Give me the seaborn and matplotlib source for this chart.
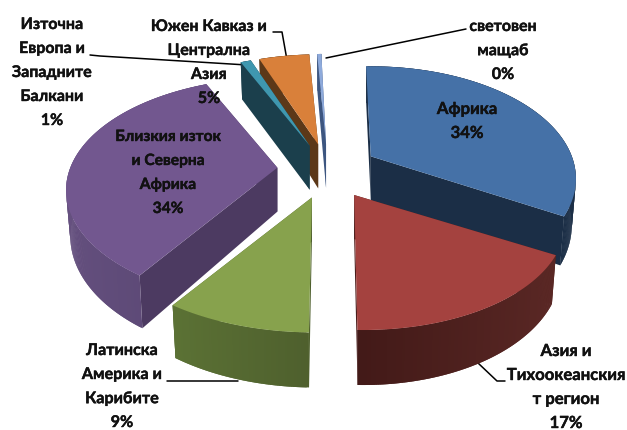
import numpy as np
import matplotlib.pyplot as plt
import matplotlib.patheffects as pe
import seaborn as sns

# Data
categories = ['Африка', 'Азия и\nТихоокеанския\nт регион', 'Латинска\nАмерика и\nКарибите',
              'Близкия изток\nи Северна\nАфрика', 'Източна\nЕвропа и\nЗападните\nБалкани',
              'Южен Кавказ и\nЦентрална\nАзия', 'световен\nмащаб']
values = [33.8, 17, 9, 34, 1, 4.8, 0.4]

# Colours: top face, rim light, rim dark, cut face
top_colors = ['#4571A7', '#A4423F', '#87A24D', '#72578F', '#3F97AF', '#D9803A', '#8EAADB']
rim_light = ['#1B2E46', '#5E2A27', '#66813B', '#65507F', '#1B3F4C', '#5C3818', '#3D5680']
rim_dark = ['#1B2E46', '#431A18', '#4E5F2D', '#55436E', '#1B3F4C', '#5C3818', '#3D5680']
cut_colors = ['#1B2E46', '#4A1D1B', '#4E5F2D', '#4C3A61', '#1B3F4C', '#5C3818', '#3D5680']

# Slices are painted from back to front
draw_order = [6, 5, 4, 0, 3, 1, 2]

# Label position (centre x, first line y), font size and leader lines
label_pos = [(467, 109), (566, 351), (122, 351), (168, 137), (52, 25), (209, 27), (503, 27)]
label_size = [12, 12, 11.6, 11.2, 11.5, 11.5, 11.5]
leaders = [None,
           [(478, 363), (497, 381), (505, 381)],
           [(167, 381), (238, 381)],
           None,
           [(90, 55), (100, 56), (247, 65)],
           [(273, 32), (282, 32), (287, 60)],
           [(326, 58), (466, 29)]]

# Pie geometry
start_angle = -1.6
cx, cy = 328, 170
radius = 201
tilt = 108
depth = 44
explode = 0.254
persp = 5.0
# perspective correction per slice, the front ones open up a little
x_stretch = [1.0, 1.02, 1.06, 1.03, 1.0, 1.0, 1.0]
x_shear = [0, 9, 3, 0, 0, 0, 0]

sns.set_theme(style='white')
plt.rcParams['font.family'] = ['Lato', 'Open Sans', 'DejaVu Sans']


def project(x, y, z=0.0):
    # ground plane (x right, y away from viewer) to pixel offsets from the centre
    s = persp / (persp + y)
    px = radius * x * s * (1 - 0.02 * z)
    py = -tilt * y * s + depth * s * z
    return px, py


def shade(c1, c2, t):
    a = np.array(sns.color_palette([c1, c2]))
    return tuple(a[0] * (1 - t) + a[1] * t)


fig = plt.figure(figsize=(6.27, 4.30), dpi=100)
ax = fig.add_axes([0, 0, 1, 1])
ax.set_xlim(0, 627)
ax.set_ylim(430, 0)
ax.axis('off')

vals = np.array(values, dtype=float)
edges = start_angle + np.concatenate([[0], np.cumsum(vals)]) * 360 / vals.sum()

for i in draw_order:
    a0, a1 = edges[i], edges[i + 1]
    mid = np.radians((a0 + a1) / 2)
    # explosion moves the whole slice on screen
    ox, oy = project(explode * np.sin(mid), explode * np.cos(mid))
    ox, oy = ox + cx, oy + cy
    ang = np.radians(np.linspace(a0, a1, max(int(a1 - a0) * 2, 3)))
    rx, ry = np.sin(ang), np.cos(ang)
    base = draw_order.index(i) * 3


    def place(xs, ys, zs=0.0):
        px, py = project(xs, ys, zs)
        return px * x_stretch[i] - x_shear[i] * ys + ox, py + oy


    # radial cut faces
    for k in [0, -1]:
        px, py = place(np.array([0, rx[k], rx[k], 0]), np.array([0, ry[k], ry[k], 0]),
                       np.array([0, 0, 1, 1]))
        ax.fill(px, py, color=cut_colors[i], lw=0, zorder=base + 1)

    # outer rim, each step overlaps the next to hide seams
    for j in range(len(ang) - 1):
        j2 = min(j + 2, len(ang) - 1)
        px, py = place(np.array([rx[j], rx[j2], rx[j2], rx[j]]),
                       np.array([ry[j], ry[j2], ry[j2], ry[j]]),
                       np.array([0, 0, 1, 1]))
        col = shade(rim_dark[i], rim_light[i], abs(np.sin(ang[j])))
        ax.fill(px, py, color=col, lw=0, zorder=base + 2)

    # top face
    px, py = place(np.r_[0, rx], np.r_[0, ry])
    ax.fill(px, py, color=top_colors[i], lw=0, zorder=base + 3)

# Labels
line_h = 24.0
for i, name in enumerate(categories):
    lines = name.split('\n') + [f'{round(values[i])}%']
    for n, line in enumerate(lines):
        ax.text(label_pos[i][0], label_pos[i][1] + n * line_h, line, ha='center', va='center',
                fontsize=label_size[i], fontweight='bold', color='#111111', zorder=50,
                path_effects=[pe.withStroke(linewidth=0.3, foreground='#111111')])
    if leaders[i]:
        lx, ly = zip(*leaders[i])
        ax.plot(lx, ly, color='black', lw=1.1, zorder=0)

fig.savefig('out.png', dpi=100)
